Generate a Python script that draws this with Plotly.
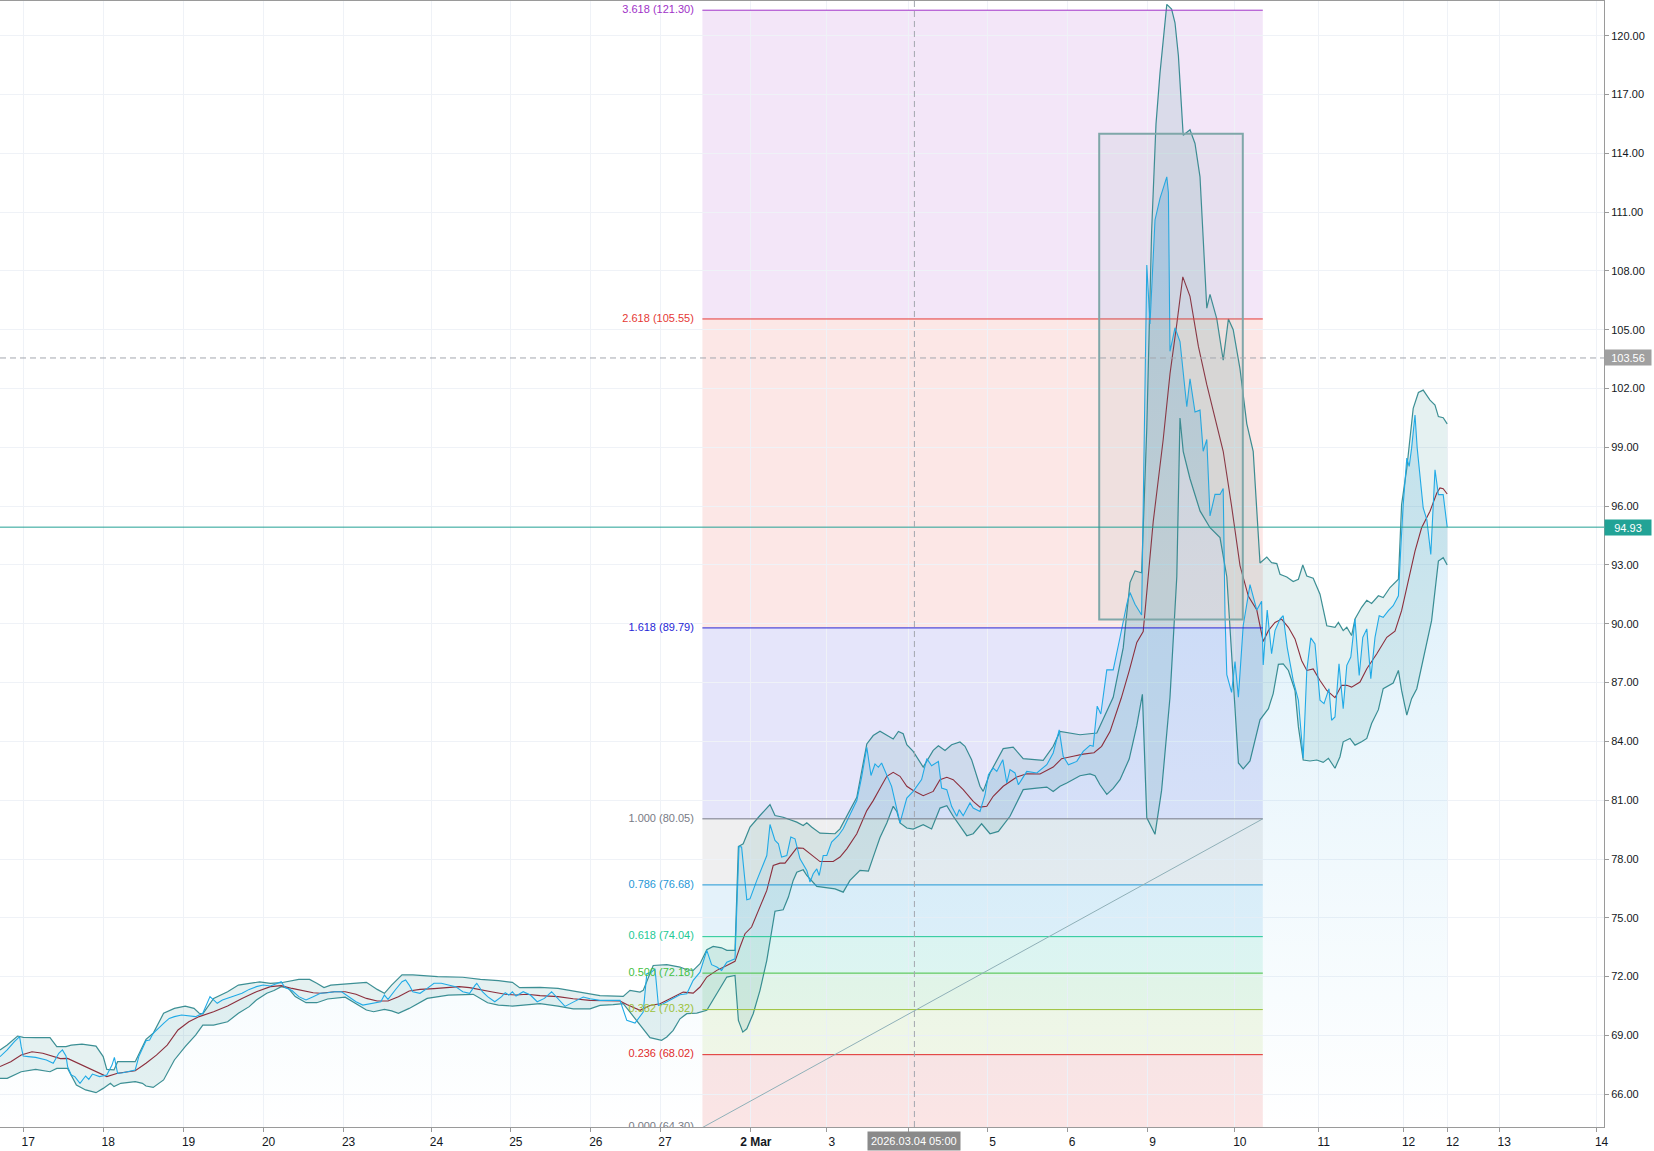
import plotly.graph_objects as go

# ---------------- data (x = bar index on a session time scale) ----------------
price_x = [0, 1.8, 3.6, 4.9, 5.3, 5.8, 7.1, 8.9, 11.6, 13.3, 14.7, 15.6, 16.5, 16.9, 17.8, 18.7, 20.0, 21.4, 22.2, 23.1,
           24.9, 26.7, 28.0, 28.6, 29.4, 30.7, 33.8, 34.7, 36.5, 37.4, 38.3, 39.1, 40.9, 42.3, 43.6, 45.4, 47.2, 48.9,
           50.7, 51.6, 52.5, 53.4, 54.3, 55.6, 57.8, 60.5, 62.3, 64.1, 65.8, 67.6, 69.4, 70.3, 71.2, 73.0, 74.7, 76.5,
           78.3, 80.1, 81.9, 83.6, 85.4, 87.2, 89.0, 90.7, 93.4, 95.2, 96.1, 97.0, 98.8, 100.5, 101.4, 102.3, 103.2,
           105.0, 106.8, 108.5, 110.3, 112.1, 113.9, 115.7, 117.4, 118.8, 119.2, 120.6, 121.9, 123.7, 125.4, 126.3,
           127.2, 128.1, 129.0, 130.8, 132.6, 134.3, 136.1, 137.9, 139.5, 141.25, 143.3, 145.8, 147.5, 150, 155, 156.7,
           158.75, 160.8, 161.7, 162.9, 163.75, 164.6, 165.8, 168.3, 170, 171.7, 173.3, 175, 176.7, 177.9, 179.2, 180.4,
           181.7, 183.75, 184.75, 185.4, 186.7, 187.5, 189.2, 191.7, 192.5, 193.75, 194.6, 195.4, 196.7, 197.7, 198.75,
           200, 201.7, 202.5, 203.3, 204.2, 204.8, 205.8, 206.7, 207.9, 209.6, 210.8, 212.5, 214.2, 215.4, 216.7,
           217.75, 218.75, 219.6, 220.4, 222.9, 225, 226.7, 228.3, 230.4, 231.7, 232.9, 234.6, 235.4, 236.7, 237.9,
           239.2, 239.8, 240.8, 242.5, 243.3, 245, 246.25, 247.1, 248.3, 249.2, 250.7, 251.7, 252.5, 253.75, 254.6,
           255.4, 256.7, 259.2, 261.7, 263.3, 264.8, 265.8, 267.1, 269.2, 270.8, 272.5, 273.3, 274.3, 275.2, 276.7,
           278.3, 280, 281.7, 282.5, 283.75, 285.4, 286.7, 287.5, 288.75, 290, 291.7, 292.1, 292.5, 293.75, 295,
           296.7, 297.5, 298.75, 300, 300.8, 301.7, 302.5, 303.75, 305, 305.8, 306.25, 306.7, 307.9, 308.75, 309.6,
           310.8, 312.5, 314.2, 315.4, 315.8, 316.8, 317.9, 318.75, 320, 320.8, 321.8, 323.3, 324.6, 325.8, 326.7,
           327.7, 328.75, 330, 331, 332.25, 332.9, 333.75, 334.75, 335.8, 336.7, 337.7, 338.75, 339.8, 340.7, 341.7,
           342.7, 343.75, 344.8, 345.8, 347.1, 348.3, 349.6, 350.2, 350.8, 351.7, 352.3, 352.9, 353.75, 354.3, 355,
           355.8, 356.7, 357.7, 358.75, 359.6, 360.8, 361.8]
price_y = [67.92, 68.26, 68.68, 68.94, 68.43, 67.95, 67.92, 67.88, 67.75, 67.58, 68.09, 68.26, 67.95, 67.41, 66.98,
           66.90, 66.56, 66.93, 66.76, 67.03, 66.90, 66.98, 67.49, 67.88, 67.07, 67.10, 67.24, 67.92, 68.73, 68.77,
           69.11, 69.28, 69.62, 69.87, 69.96, 70.04, 69.99, 69.96, 70.13, 70.55, 70.98, 70.81, 70.64, 70.81, 70.98,
           71.15, 71.35, 71.49, 71.57, 71.52, 71.66, 71.74, 71.46, 71.29, 70.98, 70.81, 70.98, 71.15, 71.18, 71.23,
           71.23, 70.98, 70.72, 70.55, 70.64, 70.72, 71.06, 70.84, 71.32, 71.74, 71.83, 71.57, 71.23, 71.15, 71.40,
           71.66, 71.66, 71.57, 71.49, 71.23, 71.15, 71.57, 71.66, 71.23, 70.98, 70.72, 70.98, 71.18, 71.06, 71.23,
           71.01, 71.23, 71.06, 70.72, 70.89, 71.23, 70.89, 70.48, 70.70, 70.96, 70.87, 70.79, 70.79, 69.77, 69.63,
           70.19, 72.15, 72.23, 72.40, 70.53, 70.62, 70.87, 71.08, 71.13, 71.81, 72.23, 73.34, 72.61, 72.49, 72.32,
           72.74, 72.91, 78.64, 78.61, 75.92, 75.97, 76.91, 78.18, 79.76, 78.95, 78.78, 78.10, 78.18, 79.12, 79.03,
           78.01, 77.42, 76.82, 77.25, 77.50, 77.16, 78.18, 78.18, 78.86, 79.20, 79.54, 80.30, 80.98, 82.17, 83.70,
           82.26, 82.85, 82.68, 82.90, 81.71, 79.84, 81.11, 81.45, 82.05, 83.12, 82.76, 82.98, 81.62, 81.54, 80.69,
           80.18, 80.52, 80.21, 80.86, 80.60, 80.43, 81.28, 82.30, 82.64, 82.47, 83.07, 81.88, 82.56, 82.39, 81.79,
           82.05, 82.47, 82.39, 82.81, 83.41, 84.59, 83.24, 82.81, 82.98, 83.49, 83.80, 83.75, 85.80, 85.40, 87.65,
           87.65, 89.30, 91.00, 91.60, 91.00, 90.45, 108.30, 105.30, 110.60, 111.70, 112.80, 112.00, 103.90, 105.10,
           104.40, 101.07, 102.50, 100.80, 100.90, 98.80, 99.40, 95.50, 96.60, 96.60, 96.90, 90.45, 87.40, 86.50,
           88.07, 86.25, 89.90, 92.00, 90.70, 91.15, 87.90, 90.70, 88.47, 89.65, 90.24, 90.41, 88.80, 87.11, 86.10,
           83.14, 87.62, 89.28, 88.97, 86.10, 85.93, 86.69, 85.08, 85.25, 87.96, 85.67, 87.88, 88.30, 90.24, 87.37,
           89.31, 89.74, 87.20, 89.31, 90.41, 90.33, 90.67, 90.92, 91.43, 93.88, 96.08, 98.45, 98.03, 98.96, 100.65,
           98.96, 97.43, 95.91, 95.32, 93.54, 97.86, 96.59, 96.59, 94.93]

upper_x = [0, 1.8, 4.4, 5.8, 8.9, 12.5, 14.2, 16.5, 17.8, 20.5, 24.0, 25.8, 26.7, 28.5, 29.4, 33.8, 36.5, 38.3, 40.9,
           43.6, 46.3, 48.5, 49.8, 50.7, 53.4, 56.9, 59.6, 62.3, 64.9, 67.6, 70.3, 74.7, 77.4, 79.2, 81.0, 82.7, 88.1,
           91.6, 94.3, 96.1, 97.9, 100.5, 103.2, 109.4, 115.7, 120.1, 124.6, 128.1, 129.9, 135, 139.5, 143.3, 147.5,
           150, 155.8, 157.5, 160, 160.8, 163.3, 166.7, 170, 171.7, 173.3, 175, 176.7, 178.3, 180.4, 181.7, 183.75,
           184.6, 185.8, 187.5, 190, 192.5, 193.75, 195.8, 199.2, 200.8, 201.7, 202.9, 205, 208.75, 210, 211.7, 214.2,
           216.7, 218.3, 220, 223.3, 224.6, 225.8, 226.7, 228.3, 230.8, 233.3, 234.6, 236.25, 237.9, 240, 241.25,
           242.9, 245, 245.8, 247.5, 250.8, 253.3, 255.8, 260.8, 263.3, 265, 266.7, 270, 274.2, 278.3, 280.8, 282.5,
           283.75, 285.4, 286.7, 287.9, 289, 290, 291.7, 292.9, 293.75, 294.6, 295.8, 297.5, 298.75, 300, 301.7,
           302.5, 304.2, 305.8, 307.1, 308.3, 310, 311.7, 313.3, 315, 316.7, 317.9, 319.2, 320, 321.7, 323.3, 324.6,
           325.7, 326.7, 328.3, 330, 331.7, 333.75, 334.6, 335.8, 336.7, 337.9, 338.75, 340.4, 341.7, 342.9, 344.6,
           345.8, 347.5, 349.6, 350, 350.4, 351.7, 353.3, 354.6, 355.8, 357.5, 358.75, 359.6, 360.8, 361.8]
upper_y = [68.26, 68.51, 68.97, 68.90, 68.89, 68.89, 68.43, 68.43, 68.51, 68.56, 68.46, 67.92, 67.27, 67.24, 67.66,
           67.66, 68.80, 69.11, 70.13, 70.38, 70.50, 70.38, 70.13, 70.10, 70.89, 71.23, 71.57, 71.66, 71.73, 71.66,
           71.69, 71.86, 71.86, 71.66, 71.44, 71.57, 71.66, 71.71, 71.35, 71.15, 71.57, 72.09, 72.09, 72.00, 71.97,
           71.86, 71.80, 71.71, 71.44, 71.45, 71.40, 71.26, 71.13, 71.03, 70.99, 71.30, 71.21, 71.30, 72.57, 72.61,
           72.49, 72.35, 72.32, 72.66, 73.37, 73.54, 73.47, 73.34, 73.34, 78.64, 78.78, 79.63, 80.22, 80.78, 80.22,
           80.13, 79.88, 79.71, 79.85, 79.63, 79.32, 79.29, 79.54, 80.22, 81.15, 83.87, 84.30, 84.52, 84.12, 84.51,
           84.39, 83.83, 83.49, 82.69, 83.54, 83.78, 83.54, 83.83, 83.97, 83.75, 83.07, 81.71, 81.45, 82.39, 83.63,
           83.71, 83.12, 83.03, 83.75, 84.51, 84.46, 84.34, 84.43, 86.25, 88.77, 92.10, 92.70, 92.60, 100.00, 110.00,
           115.50, 118.10, 121.60, 121.36, 120.66, 118.98, 114.92, 115.20, 114.50, 112.80, 106.10, 106.80, 105.55,
           103.45, 105.55, 105.00, 103.00, 100.20, 98.80, 93.10, 93.40, 93.12, 93.07, 92.53, 92.39, 92.16, 92.27,
           93.00, 92.44, 92.32, 91.51, 89.90, 89.82, 90.07, 89.65, 89.82, 89.40, 90.24, 90.84, 91.20, 91.04, 91.43,
           91.34, 91.85, 92.27, 93.88, 96.08, 97.94, 100.99, 101.80, 101.92, 101.41, 101.16, 100.57, 100.51, 100.20]

lower_x = [0, 1.8, 5.3, 8.9, 12.5, 14.2, 16.9, 17.8, 19.1, 21.4, 24.0, 25.8, 27.6, 28.5, 30.2, 33.8, 35.6, 36.5, 38.3,
           40.9, 43.6, 46.3, 48.9, 50.7, 53.4, 56.9, 59.6, 62.3, 64.1, 66.7, 68.5, 70.3, 72.1, 73.8, 76.5, 79.2, 81.9,
           86.3, 89.0, 91.6, 93.4, 96.1, 97.9, 99.6, 102.3, 106.8, 112.1, 118.3, 121.9, 124.6, 128.1, 130.8, 135,
           139.5, 141.3, 143.3, 147.5, 150, 153.3, 155.8, 157.5, 160, 162.5, 165.4, 166.7, 168.3, 170, 171.7, 174.2,
           176.7, 179.2, 181.7, 183.75, 184.6, 185.7, 186.7, 188.3, 190, 191.7, 193.75, 195.8, 197.1, 198.3, 199.2,
           200.8, 201.7, 204.2, 207.5, 208.75, 210.8, 212.5, 215, 217.1, 218.3, 220, 221.7, 223.3, 224.2, 225, 226.7,
           228.3, 230.8, 232.9, 235, 236.7, 238.3, 241.7, 243.3, 245.4, 247.5, 249.6, 252.5, 254.2, 255.8, 259.2,
           261.7, 263.3, 265, 266.7, 270, 272.5, 273.75, 275, 276.7, 278.3, 280, 282.3, 284.2, 285.6, 286.7, 288.75,
           290.4, 292.5, 294.2, 295, 295.8, 297.5, 300, 302.5, 305, 306.7, 308.3, 309.6, 310.8, 312.5, 315, 317.1,
           318.3, 319.6, 320.8, 322.1, 323.75, 324.6, 325.8, 327.5, 329.2, 330.8, 332.1, 333.75, 335, 335.8, 337.5,
           338.75, 340.4, 341.7, 342.9, 344.6, 345.8, 347.1, 348.3, 349.6, 350.4, 351.7, 352.9, 354.2, 355.8, 357.9,
           359.6, 360.8, 361.8]
lower_y = [66.81, 66.81, 67.15, 67.27, 67.15, 67.32, 67.32, 66.98, 66.47, 66.22, 66.08, 66.30, 66.56, 66.39, 66.56,
           66.64, 66.56, 66.42, 66.35, 66.73, 67.75, 68.43, 69.02, 69.53, 69.53, 69.70, 70.13, 70.47, 70.81, 71.15,
           71.29, 71.49, 71.40, 70.98, 70.67, 70.67, 70.86, 70.95, 70.64, 70.30, 70.21, 70.33, 70.25, 70.13, 70.38,
           70.89, 71.06, 71.10, 70.67, 70.55, 70.50, 70.55, 70.62, 70.50, 70.42, 70.36, 70.36, 70.53, 70.57, 70.62,
           70.19, 69.52, 68.89, 68.75, 68.92, 69.26, 69.85, 70.11, 70.14, 70.28, 71.13, 71.98, 72.06, 69.77, 69.17,
           69.34, 70.11, 71.30, 72.83, 75.34, 75.41, 76.06, 76.91, 77.33, 77.45, 77.16, 76.60, 76.53, 76.48, 76.31,
           76.91, 77.42, 77.38, 78.10, 79.10, 79.84, 80.69, 80.43, 79.84, 79.58, 79.53, 79.75, 79.53, 80.60, 80.72,
           80.18, 79.19, 79.29, 79.80, 79.29, 79.41, 80.18, 80.86, 81.54, 81.62, 81.67, 81.45, 81.71, 81.88, 82.25,
           82.34, 82.25, 81.79, 81.30, 81.60, 82.05, 83.10, 84.80, 86.40, 80.10, 79.26, 81.50, 86.25, 92.40, 100.50,
           98.80, 97.40, 95.76, 94.90, 94.40, 92.40, 87.10, 82.90, 82.60, 83.00, 85.10, 85.67, 86.44, 87.93, 87.96,
           87.62, 86.60, 84.74, 83.05, 83.00, 83.05, 82.93, 83.14, 82.63, 83.22, 83.98, 84.15, 83.81, 83.98, 84.15,
           84.91, 85.62, 86.69, 86.86, 86.98, 87.62, 86.60, 85.34, 86.18, 86.69, 88.13, 90.16, 93.20, 93.37, 93.00]

ma_x = [0, 2.7, 5.3, 8.0, 10.7, 13.3, 15.1, 16.9, 18.7, 21.4, 24.0, 26.7, 29.4, 31.1, 33.8, 36.5, 39.1, 41.8, 44.5,
        47.2, 49.8, 53.4, 56.9, 60.5, 64.1, 67.6, 70.3, 73.0, 75.6, 78.3, 80.1, 83.6, 86.3, 89.0, 91.6, 94.3, 97.0,
        99.6, 102.3, 105.0, 108.5, 112.1, 114.8, 117.4, 120.1, 122.8, 126.3, 129.0, 131.7, 135, 139.5, 143.3, 147.5,
        151.7, 155, 156.7, 158.3, 160, 162.5, 165, 167.5, 170.8, 173.3, 175, 176.7, 179.2, 181.7, 183.75, 185,
        186.25, 187.9, 190, 191.7, 193.3, 195, 196.25, 197.5, 199.2, 200.8, 202.5, 205, 208.3, 210, 211.7, 214.2,
        216.7, 218.3, 220.4, 221.7, 223.3, 225, 226.7, 228.3, 230.8, 233.3, 235, 236.7, 238.3, 240.8, 243.3, 245,
        246.7, 248.3, 250.8, 254.2, 256.7, 260, 263.3, 265.4, 268.3, 270.8, 273.5, 275.4, 277.5, 280.3, 282.3,
        284.2, 285.8, 288.3, 290.8, 292.5, 294.2, 295.7, 297.5, 299.6, 301.7, 303.3, 305.8, 307.9, 310, 312.1,
        314.2, 315.8, 317.1, 318.75, 320.4, 322.1, 323.75, 325.4, 326.7, 328.3, 330, 331.7, 333.75, 335.4, 336.7,
        337.9, 340, 341.7, 344.2, 346.7, 348.75, 350.4, 352.1, 353.75, 355.4, 357.5, 359.2, 360, 360.8, 361.8]
ma_y = [67.41, 67.66, 68.00, 68.17, 68.09, 67.92, 67.82, 67.83, 67.66, 67.41, 67.19, 66.90, 67.07, 67.12, 67.20,
        67.58, 68.00, 68.51, 69.28, 69.70, 69.96, 70.21, 70.50, 70.89, 71.23, 71.49, 71.54, 71.40, 71.29, 71.18,
        71.15, 71.23, 71.23, 71.10, 70.89, 70.76, 70.76, 70.98, 71.27, 71.35, 71.39, 71.44, 71.49, 71.44, 71.35,
        71.23, 71.10, 71.06, 71.10, 71.03, 70.98, 70.87, 70.79, 70.76, 70.76, 70.58, 70.42, 70.28, 70.53, 70.62,
        70.87, 71.21, 71.16, 71.47, 71.98, 72.32, 72.57, 72.78, 73.51, 74.19, 74.53, 75.55, 76.40, 77.67, 77.79,
        77.79, 78.13, 78.57, 78.55, 78.27, 77.87, 77.87, 78.10, 78.52, 79.29, 80.47, 80.98, 81.75, 82.22, 82.42,
        82.22, 81.71, 81.50, 81.23, 81.45, 82.05, 82.17, 82.05, 81.54, 80.94, 80.65, 80.69, 81.20, 81.71, 82.18,
        82.35, 82.34, 82.69, 83.12, 83.24, 83.35, 83.42, 83.75, 84.50, 86.20, 87.60, 89.05, 89.60, 95.20, 99.40,
        102.75, 105.30, 107.70, 106.70, 104.15, 102.20, 100.90, 98.80, 96.00, 92.97, 91.40, 90.70, 89.10, 89.65,
        90.07, 90.24, 89.82, 89.23, 88.13, 87.62, 87.70, 87.11, 86.60, 86.23, 86.86, 86.86, 86.77, 87.03, 87.71,
        88.47, 89.31, 89.62, 90.67, 92.19, 93.71, 94.90, 95.74, 96.67, 96.93, 96.89, 96.62]

tick_vals = [5.8, 25.8, 45.9, 65.9, 85.9, 107.85, 127.7, 147.7, 165.0, 187.7, 206.7, 227.0, 246.9, 266.8, 286.9,
             308.7, 329.7, 350.9, 361.9, 374.8, 399.15]
# the "4" label sits under the crosshair time label in the original, so it is left blank
tick_text = ["17", "18", "19", "20", "23", "24", "25", "26", "27", "<b>2 Mar</b>", "3", "", "5", "6", "9", "10",
             "11", "12", "12", "13", "14"]

fib_levels = [0.0, 0.236, 0.382, 0.5, 0.618, 0.786, 1.0, 1.618, 2.618, 3.618]
fib_prices = [64.30, 68.02, 70.32, 72.18, 74.04, 76.68, 80.05, 89.79, 105.55, 121.30]
fib_colors = ["#787b86", "#e02b2b", "#9cc23a", "#43c043", "#22c995", "#1f97d6", "#787b86", "#2626d6", "#e53935",
              "#a032c8"]
fib_start, fib_end = 175.6, 315.7

box_x = [274.8, 310.7]
box_y = [90.22, 115.0]

last_price = 94.93
cross_price = 103.56
cross_bar = 228.6
cross_label = "2026.03.04 05:00"

X_RANGE = [0, 401]
Y_RANGE = [64.33, 121.77]


def rgba(hex_color, a):
    h = hex_color.lstrip("#")
    r, g, b = int(h[0:2], 16), int(h[2:4], 16), int(h[4:6], 16)
    return f"rgba({r},{g},{b},{a})"


fig = go.Figure()

# price area with vertical gradient
fig.add_trace(go.Scatter(
    x=price_x, y=price_y, mode="lines", line=dict(width=0), fill="tozeroy",
    fillgradient=dict(type="vertical",
                      colorscale=[[0, "rgba(41,170,226,0.0)"], [1, "rgba(41,150,226,0.26)"]],
                      start=Y_RANGE[0], stop=116),
    hoverinfo="skip", showlegend=False))

band_line = "rgba(28,125,130,0.85)"
fig.add_trace(go.Scatter(x=upper_x, y=upper_y, mode="lines", line=dict(color=band_line, width=1.2),
                         hoverinfo="skip", showlegend=False))
fig.add_trace(go.Scatter(x=lower_x, y=lower_y, mode="lines", line=dict(color=band_line, width=1.2),
                         fill="tonexty", fillcolor="rgba(40,140,140,0.12)", hoverinfo="skip", showlegend=False))
fig.add_trace(go.Scatter(x=ma_x, y=ma_y, mode="lines", line=dict(color="#8c2f3d", width=1.1),
                         hoverinfo="skip", showlegend=False))
fig.add_trace(go.Scatter(x=price_x, y=price_y, mode="lines", line=dict(color="#20aae6", width=1.1),
                         hoverinfo="skip", showlegend=False))

# fib labels (clipped at the plot edge like the original); invisible marker keeps a small gap
fig.add_trace(go.Scatter(
    x=[fib_start] * len(fib_levels), y=fib_prices, mode="markers+text",
    marker=dict(size=12, color="rgba(0,0,0,0)"),
    text=[f"{lv:.3f} ({p:.2f})" for lv, p in zip(fib_levels, fib_prices)],
    textposition="middle left",
    textfont=dict(color=fib_colors, size=11, family="Liberation Sans, Arial, sans-serif"),
    cliponaxis=True, hoverinfo="skip", showlegend=False))

shapes = []
for i in range(1, len(fib_prices)):
    shapes.append(dict(type="rect", xref="x", yref="y", x0=fib_start, x1=fib_end,
                       y0=fib_prices[i - 1], y1=fib_prices[i], fillcolor=rgba(fib_colors[i], 0.12),
                       line=dict(width=0), layer="below"))
for p, c in zip(fib_prices, fib_colors):
    shapes.append(dict(type="line", xref="x", yref="y", x0=fib_start, x1=fib_end, y0=p, y1=p,
                       line=dict(color=c, width=1), layer="above"))
# trend line of the fib tool
shapes.append(dict(type="line", xref="x", yref="y", x0=fib_start, x1=fib_end, y0=fib_prices[0], y1=fib_prices[6],
                   line=dict(color="#8fb0b8", width=1), layer="above"))
# rectangle drawing
shapes.append(dict(type="rect", xref="x", yref="y", x0=box_x[0], x1=box_x[1], y0=box_y[0], y1=box_y[1],
                   fillcolor="rgba(110,150,150,0.09)", line=dict(color="#7fa7a9", width=2), layer="above"))
# last price line
shapes.append(dict(type="line", xref="paper", yref="y", x0=0, x1=1, y0=last_price, y1=last_price,
                   line=dict(color="#22a094", width=1), layer="above"))
# crosshair
shapes.append(dict(type="line", xref="paper", yref="y", x0=0, x1=1, y0=cross_price, y1=cross_price,
                   line=dict(color="#a3a6ae", width=1, dash="6px,4px"), layer="above"))
shapes.append(dict(type="line", xref="x", yref="paper", x0=cross_bar, x1=cross_bar, y0=0, y1=1,
                   line=dict(color="#a3a6ae", width=1, dash="6px,4px"), layer="above"))

annotations = [
    dict(x=1, xref="paper", xanchor="left", y=cross_price, yref="y", yanchor="middle",
         text=f"{cross_price:.2f}", showarrow=False, bgcolor="#a0a0a0",
         font=dict(color="white", size=11), width=46, height=15, align="center", borderpad=0),
    dict(x=1, xref="paper", xanchor="left", y=last_price, yref="y", yanchor="middle",
         text=f"{last_price:.2f}", showarrow=False, bgcolor="#22a396",
         font=dict(color="white", size=11), width=46, height=15, align="center", borderpad=0),
    dict(x=cross_bar, xref="x", y=0, yref="paper", yanchor="top", yshift=-4,
         text=cross_label, showarrow=False, bgcolor="#8a8a8a",
         font=dict(color="white", size=11), borderpad=3),
]

fig.update_layout(
    width=1654, height=1151,
    margin=dict(l=0, r=50, t=1, b=24),
    paper_bgcolor="white", plot_bgcolor="white",
    showlegend=False,
    font=dict(family="Liberation Sans, Arial, sans-serif", size=11, color="#131722"),
    shapes=shapes, annotations=annotations,
    xaxis=dict(range=X_RANGE, tickmode="array", tickvals=tick_vals, ticktext=tick_text,
               showgrid=True, gridcolor="#eff2f7", gridwidth=1, zeroline=False,
               showline=True, linecolor="#9a9a9a", linewidth=1, mirror=True,
               ticks="outside", ticklen=4, tickcolor="#9a9a9a", ticklabelshift=5,
               tickfont=dict(size=12, color="#131722")),
    yaxis=dict(range=Y_RANGE, side="right", tick0=0, dtick=3, tickformat=".2f",
               showgrid=True, gridcolor="#eff2f7", gridwidth=1, zeroline=False,
               showline=True, linecolor="#9a9a9a", linewidth=1,
               ticks="outside", ticklen=4, tickcolor="#9a9a9a",
               tickfont=dict(size=11, color="#131722")),
)

fig.write_html(
    "out.html",
    config={"displayModeBar": False},
    post_script="document.body.style.margin='0px';document.body.style.padding='0px';"
                "document.body.style.overflow='hidden';",
)
